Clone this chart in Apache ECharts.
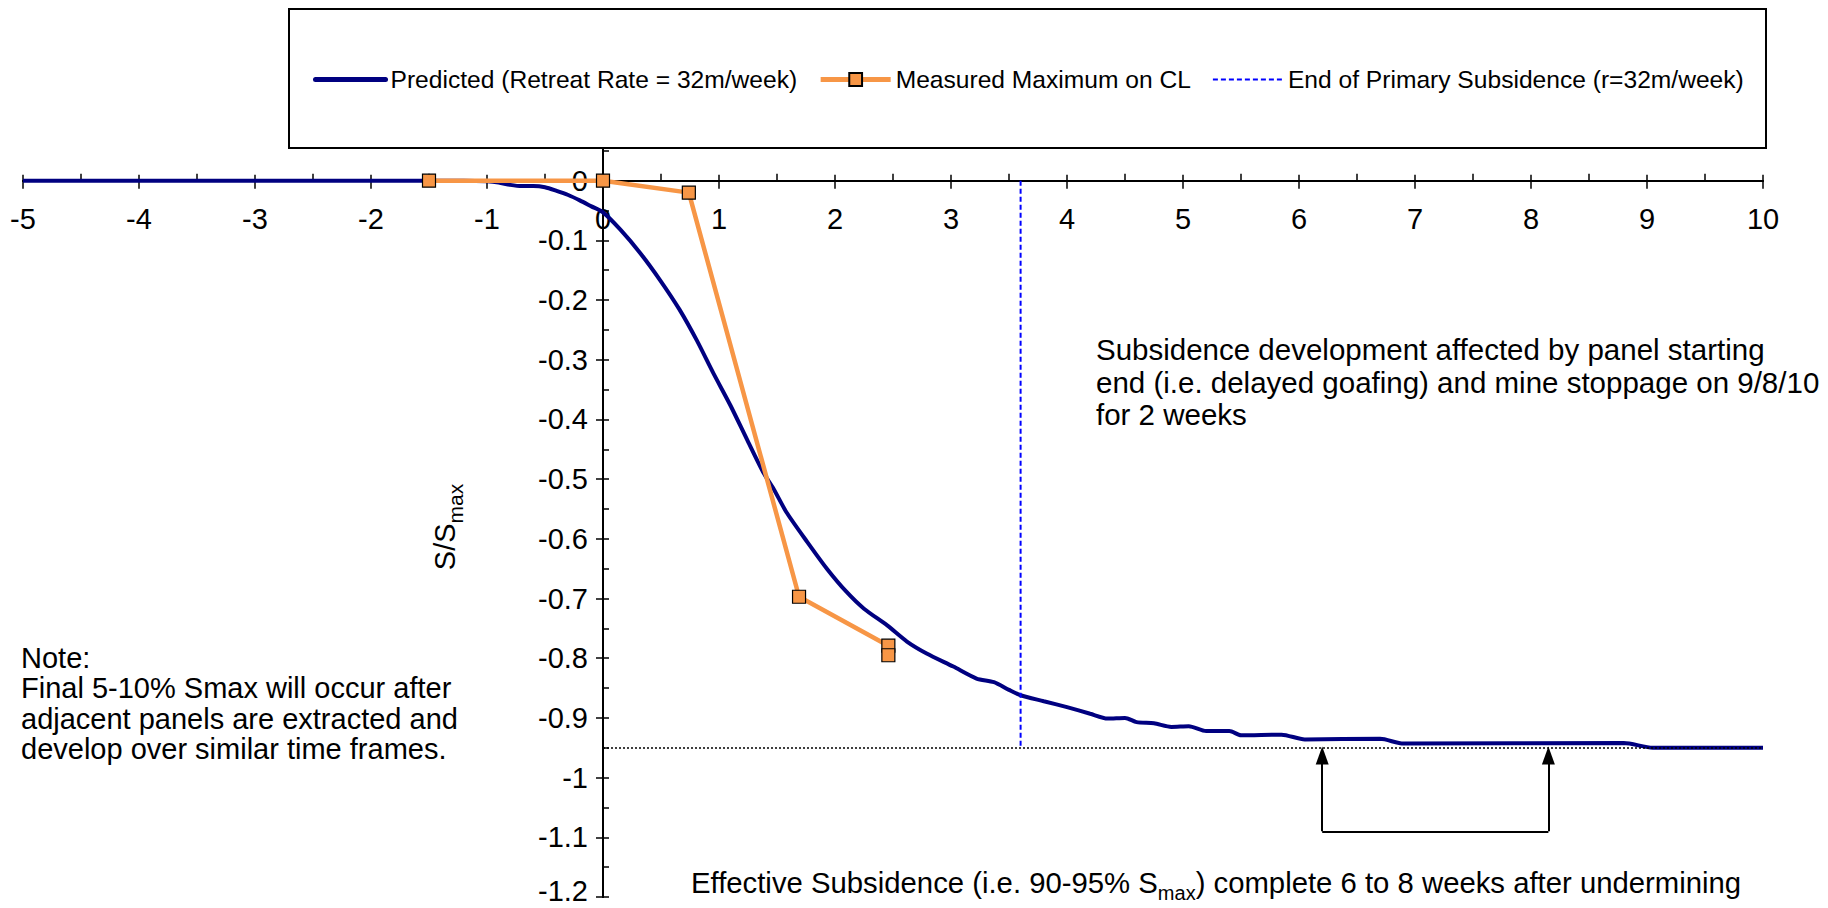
<!DOCTYPE html>
<html><head><meta charset="utf-8">
<script src="https://cdn.jsdelivr.net/npm/echarts@6/dist/echarts.min.js"></script>
<style>html,body{margin:0;padding:0;background:#fff}#c{width:1828px;height:908px}</style>
</head><body><div id="c"></div>
<script>
// ---- data ----
const seriesNames = ['Predicted (Retreat Rate = 32m/week)', 'Measured Maximum on CL', 'End of Primary Subsidence (r=32m/week)'];
const predictedX = [-5, -1.2, -1.0, -0.9, -0.8, -0.7, -0.6, -0.5, -0.4, -0.3, -0.2, -0.1, 0, 0.15, 0.32, 0.49, 0.66, 0.81, 0.95, 1.1, 1.24, 1.38, 1.47, 1.58, 1.76, 1.93, 2.1, 2.25, 2.45, 2.62, 2.79, 3.02, 3.22, 3.37, 3.5, 3.6, 3.8, 4.0, 4.2, 4.35, 4.5, 4.6, 4.75, 4.9, 5.05, 5.2, 5.4, 5.5, 5.85, 6.05, 6.7, 6.9, 8.8, 9.05, 10];
const predictedY = [0, 0, -0.001, -0.003, -0.007, -0.009, -0.009, -0.011, -0.017, -0.024, -0.033, -0.043, -0.053, -0.082, -0.121, -0.166, -0.216, -0.268, -0.322, -0.377, -0.433, -0.488, -0.516, -0.555, -0.605, -0.650, -0.689, -0.717, -0.745, -0.772, -0.792, -0.814, -0.834, -0.840, -0.853, -0.862, -0.872, -0.882, -0.893, -0.901, -0.900, -0.907, -0.909, -0.915, -0.914, -0.922, -0.922, -0.929, -0.928, -0.936, -0.935, -0.943, -0.942, -0.950, -0.950];
const measuredX = [-1.5, 0, 0.74, 1.69, 2.46, 2.46];
const measuredY = [0, 0, -0.02, -0.697, -0.779, -0.795];
const primaryEndX = [3.6, 3.6];
const primaryEndY = [0, -0.95];
const effectiveLevel = -0.95;
const effectiveLineX = [0, 10];
const bracketX = [6.2, 8.15];
const bracketBottomY = -1.09;
const arrowTipY = -0.963;
const xMin = -5, xMax = 10, xStep = 1;
const yMin = -1.2, yMax = 0.1, yStep = 0.1;

// ---- chart ----
const FONT = '"Liberation Sans", Arial, sans-serif';
const zip = (xs, ys) => xs.map((x, i) => [x, ys[i]]);
const W = 1828, H = 908;
const chart = echarts.init(document.getElementById('c'), null, {renderer: 'svg', width: W, height: H});

const G = {left: 23, right: 65, top: 121, bottom: 11};
const gridW = W - G.left - G.right, gridH = H - G.top - G.bottom;
// axes cross at zero: shift the labelled axes from the grid edges to the zero lines of the scales
const xAxisShift = -gridH * (0 - yMin) / (yMax - yMin);
const yAxisShift = -gridW * (0 - xMin) / (xMax - xMin);

const tickStyle = {color: '#000', width: 1.5};
const lineAxis = {color: '#000', width: 2};
const gridBox = Object.assign({containLabel: false, outerBoundsMode: 'none'}, G);
const fmt = v => String(Number(Number(v).toFixed(2)));

const option = {
  animation: false,
  grid: [Object.assign({}, gridBox), Object.assign({}, gridBox)],
  xAxis: [
    {gridIndex: 0, type: 'value', min: xMin, max: xMax, interval: xStep, position: 'bottom', offset: xAxisShift, z: 1,
     axisLine: {onZero: false, lineStyle: lineAxis},
     axisTick: {show: true, length: 8, lineStyle: tickStyle},
     splitLine: {show: false},
     axisLabel: {margin: 24, fontSize: 29, color: '#000', fontFamily: FONT}},
    {gridIndex: 1, type: 'value', min: xMin, max: xMax, interval: xStep, position: 'top', z: 1,
     axisLine: {onZero: true, lineStyle: lineAxis},
     axisTick: {show: true, length: 6, lineStyle: tickStyle},
     minorTick: {show: true, splitNumber: 2, length: 7, lineStyle: tickStyle},
     splitLine: {show: false}, minorSplitLine: {show: false},
     axisLabel: {show: false}}
  ],
  yAxis: [
    {gridIndex: 0, type: 'value', min: yMin, max: yMax, interval: yStep, position: 'left', offset: yAxisShift, z: 1,
     axisLine: {onZero: false, lineStyle: lineAxis},
     axisTick: {show: true, length: 7, lineStyle: tickStyle},
     splitLine: {show: false},
     axisLabel: {margin: 15, fontSize: 29, color: '#000', fontFamily: FONT,
                 formatter: v => Math.abs(v - yMin) < 1e-9 ? '{lo|' + fmt(v) + '}' : fmt(v),
                 rich: {lo: {fontSize: 29, color: '#000', fontFamily: FONT, padding: [0, 0, 12, 0]}}}},
    {gridIndex: 1, type: 'value', min: yMin, max: yMax, interval: yStep, position: 'right', z: 1,
     axisLine: {onZero: true, lineStyle: lineAxis},
     axisTick: {show: true, length: 6, lineStyle: tickStyle},
     minorTick: {show: true, splitNumber: 2, length: 6, lineStyle: tickStyle},
     splitLine: {show: false}, minorSplitLine: {show: false},
     axisLabel: {show: false}}
  ],
  legend: {
    data: [
      {name: seriesNames[0], itemStyle: {opacity: 0}, lineStyle: {width: 5, cap: 'round'}},
      {name: seriesNames[1], lineStyle: {width: 5}},
      {name: seriesNames[2], itemStyle: {opacity: 0}, lineStyle: {width: 2}}
    ],
    left: 308, top: 62, z: 20,
    itemWidth: 70, itemHeight: 16, itemGap: 21,
    textStyle: {fontSize: 24.6, color: '#000', fontFamily: FONT}
  },
  series: [
    {name: seriesNames[0], type: 'line', xAxisIndex: 0, yAxisIndex: 0, data: zip(predictedX, predictedY),
     showSymbol: false, symbol: 'none', smooth: 0.25, z: 3,
     lineStyle: {color: '#000080', width: 4}, itemStyle: {color: '#000080'},
     markLine: {
       silent: true, animation: false, symbol: ['none', 'none'], label: {show: false},
       emphasis: {disabled: true},
       data: [
         [{coord: [effectiveLineX[0], effectiveLevel], lineStyle: {type: [2, 2], color: '#000', width: 1.5}},
          {coord: [effectiveLineX[1], effectiveLevel]}],
         [{coord: [bracketX[0], bracketBottomY], lineStyle: {type: 'solid', color: '#000', width: 2}},
          {coord: [bracketX[0], arrowTipY], symbol: 'triangle', symbolSize: [13, 18]}],
         [{coord: [bracketX[1], bracketBottomY], lineStyle: {type: 'solid', color: '#000', width: 2}},
          {coord: [bracketX[1], arrowTipY], symbol: 'triangle', symbolSize: [13, 18]}],
         [{coord: [bracketX[0], bracketBottomY], lineStyle: {type: 'solid', color: '#000', width: 2}},
          {coord: [bracketX[1], bracketBottomY]}]
       ]
     }},
    {name: seriesNames[1], type: 'line', xAxisIndex: 0, yAxisIndex: 0, data: zip(measuredX, measuredY),
     symbol: 'rect', symbolSize: 13, z: 4,
     lineStyle: {color: '#F79646', width: 4.5},
     itemStyle: {color: '#F79646', borderColor: '#000', borderWidth: 1.2}},
    {name: seriesNames[2], type: 'line', xAxisIndex: 0, yAxisIndex: 0, data: zip(primaryEndX, primaryEndY),
     symbol: 'none', z: 3,
     lineStyle: {color: '#0000FF', width: 2, type: [5, 3]}, itemStyle: {color: '#0000FF'}}
  ],
  graphic: [
    {type: 'rect', z: 15, shape: {x: 289, y: 9, width: 1477, height: 139},
     style: {fill: '#fff', stroke: '#000', lineWidth: 2}},
    {type: 'text', z: 16, x: 1096, y: 333,
     style: {text: 'Subsidence development affected by panel starting\nend (i.e. delayed goafing) and mine stoppage on 9/8/10\nfor 2 weeks',
             fontSize: 29.5, fontFamily: FONT, fill: '#000', lineHeight: 32.7, verticalAlign: 'top', align: 'left'}},
    {type: 'text', z: 16, x: 21, y: 643,
     style: {text: 'Note:\nFinal 5-10% Smax will occur after\nadjacent panels are extracted and\ndevelop over similar time frames.',
             fontSize: 29, fontFamily: FONT, fill: '#000', lineHeight: 30.3, verticalAlign: 'top', align: 'left'}},
    {type: 'text', z: 16, x: 691, y: 868,
     style: {text: '{n|Effective Subsidence (i.e. 90-95% S}{s|max}{n|) complete 6 to 8 weeks after undermining}',
             verticalAlign: 'top', align: 'left', fill: '#000',
             rich: {n: {fontSize: 29.3, fontFamily: FONT, lineHeight: 35, verticalAlign: 'top', fill: '#000'},
                    s: {fontSize: 20, fontFamily: FONT, lineHeight: 20, verticalAlign: 'bottom', fill: '#000'}}}},
    {type: 'text', z: 16, x: 448, y: 527, rotation: Math.PI / 2,
     style: {text: '{n|S/S}{s|max}', align: 'center', verticalAlign: 'middle', fill: '#000',
             rich: {n: {fontSize: 29, fontFamily: FONT, lineHeight: 35, verticalAlign: 'top', fill: '#000'},
                    s: {fontSize: 21, fontFamily: FONT, lineHeight: 21, verticalAlign: 'bottom', fill: '#000'}}}}
  ]
};
chart.setOption(option);
</script></body></html>
